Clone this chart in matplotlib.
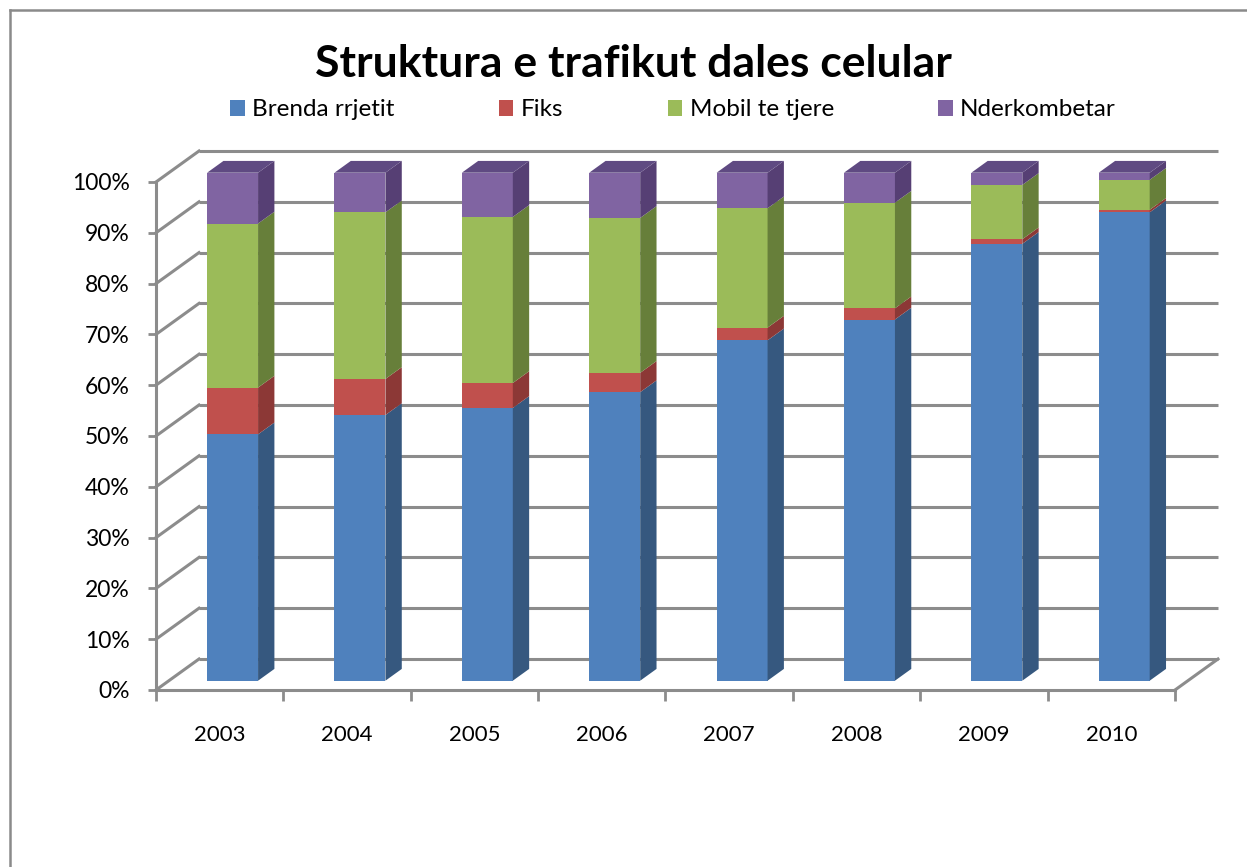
import matplotlib.pyplot as plt
from matplotlib.patches import Polygon, Patch
from matplotlib.lines import Line2D
import numpy as np

plt.rcParams['font.family'] = ['Lato', 'DejaVu Sans']

years = ['2003', '2004', '2005', '2006', '2007', '2008', '2009', '2010']
series_names = ['Brenda rrjetit', 'Fiks', 'Mobil te tjere', 'Nderkombetar']
brenda = [48.5, 52.3, 53.7, 56.8, 67.0, 71.1, 86.0, 92.2]
fiks = [9.2, 7.1, 4.9, 3.8, 2.5, 2.2, 0.9, 0.5]
mobil = [32.3, 32.8, 32.7, 30.5, 23.5, 20.8, 10.7, 5.9]
nderkombetar = [10.0, 7.8, 8.7, 8.9, 7.0, 5.9, 2.4, 1.4]

front_colors = ['#4F81BD', '#C0504D', '#9BBB59', '#8064A2']
side_colors = ['#36587F', '#8C3836', '#677F3A', '#563F74']
top_color = '#5F4A82'
grid_color = '#8C8C8C'

W, H = 1247, 867
fig = plt.figure(figsize=(W / 100, H / 100), dpi=100)
ax = fig.add_axes([156 / W, (H - 690) / H, (1175 - 156) / W, 508 / H])
ax.set_xlim(-0.5, 7.5)
ax.set_ylim(0, 100)

# depth of the 3d box (data units) and of the bars
px_x = (1175 - 156) / 8.0
px_y = 508 / 100.0
dx, dy = 43 / px_x, 31 / px_y
f0, fd = 0.30, 0.38
bw = 0.40

# back wall and side wall grid
for v in range(0, 101, 10):
    ax.plot([-0.5 + dx, 7.5 + dx], [v + dy, v + dy], color=grid_color, lw=2.2,
            clip_on=False, zorder=1, solid_capstyle='butt')
    ax.plot([-0.5, -0.5 + dx], [v, v + dy], color=grid_color, lw=2.2,
            clip_on=False, zorder=1)
ax.plot([7.5, 7.5 + dx], [0, dy], color=grid_color, lw=2.2, clip_on=False, zorder=1)

x = np.arange(len(years))
data = [brenda, fiks, mobil, nderkombetar]
bottom = np.zeros(len(years))
ox, oy = f0 * dx, f0 * dy
bx, by = fd * dx, fd * dy
for k, vals in enumerate(data):
    vals = np.array(vals)
    ax.bar(x + ox, vals, width=bw, bottom=bottom + oy, color=front_colors[k],
           zorder=3, clip_on=False)
    for i in range(len(years)):
        xr = x[i] + ox + bw / 2
        b = bottom[i] + oy
        t = b + vals[i]
        ax.add_patch(Polygon([(xr, b), (xr + bx, b + by), (xr + bx, t + by), (xr, t)],
                             closed=True, facecolor=side_colors[k], edgecolor='none',
                             zorder=3, clip_on=False))
    bottom = bottom + vals

for i in range(len(years)):
    xl = x[i] + ox - bw / 2
    xr = x[i] + ox + bw / 2
    t = bottom[i] + oy
    ax.add_patch(Polygon([(xl, t), (xl + bx, t + by), (xr + bx, t + by), (xr, t)],
                         closed=True, facecolor=top_color, edgecolor='none',
                         zorder=3, clip_on=False))

for s in ['top', 'right']:
    ax.spines[s].set_visible(False)
for s in ['left', 'bottom']:
    ax.spines[s].set_color(grid_color)
    ax.spines[s].set_linewidth(2.2)
    ax.spines[s].set_zorder(2)

ax.set_yticks(range(0, 101, 10))
ax.set_yticklabels(['{}%'.format(v) for v in range(0, 101, 10)])
ax.set_xticks(np.arange(-0.5, 8, 1.0))
ax.set_xticklabels([])
ax.set_xticks(x, minor=True)
ax.set_xticklabels(years, minor=True)
ax.tick_params(axis='y', length=6, width=2, color=grid_color, pad=13, labelsize=16.5)
ax.tick_params(axis='x', which='major', length=8, width=2, color=grid_color)
ax.tick_params(axis='x', which='minor', length=0, pad=25, labelsize=16)
ax.patch.set_visible(False)

fig.text(633 / W, 1 - 77 / H, 'Struktura e trafikut dales celular', ha='center',
         va='baseline', fontsize=32, fontweight='bold')

handles = [Patch(facecolor=c, edgecolor='none') for c in front_colors]
fig.legend(handles, series_names, loc='center', bbox_to_anchor=(673 / W, 1 - 110 / H),
           ncol=4, frameon=False, fontsize=17.5, handlelength=0.6, handleheight=0.6,
           handletextpad=0.3, columnspacing=4.3)

fig.add_artist(Line2D([10 / W, 10 / W], [0, 1 - 10 / H], color='#8A8A8A', lw=1.8,
                      transform=fig.transFigure))
fig.add_artist(Line2D([10 / W, 1], [1 - 10 / H, 1 - 10 / H], color='#8A8A8A', lw=1.8,
                      transform=fig.transFigure))

fig.savefig('out.png', dpi=100)
